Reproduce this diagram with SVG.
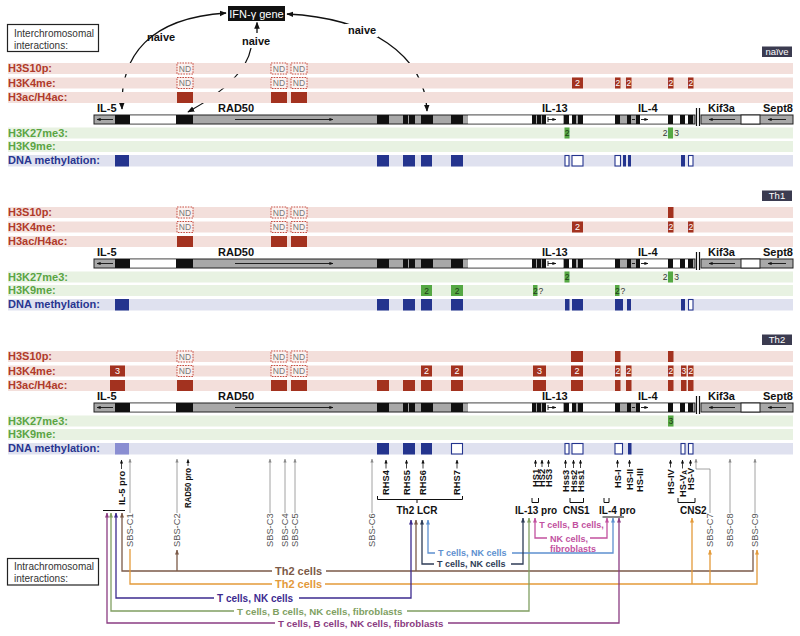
<svg xmlns="http://www.w3.org/2000/svg" width="800" height="636" viewBox="0 0 800 636">
<style>
text{font-family:"Liberation Sans",Arial,Helvetica,sans-serif}
.bR{fill:#f3dfdb}.bG{fill:#e8f2e2}.bB{fill:#dfe1ef}
.lR,.lG,.lB{font-size:11px;font-weight:bold}
.lR{fill:#b03a2a}.lG{fill:#5aa444}.lB{fill:#283590}
.mR{fill:#a3321f}.mG{fill:#55a843}.mB{fill:#24348e}.mL{fill:#8a8ed2}
.oB{fill:#fff;stroke:#24348e;stroke-width:1.1}
.nd{fill:#fbf1ef;stroke:#c0392b;stroke-width:0.9;stroke-dasharray:1.6 1.1}
.ndt{font-size:8.5px;fill:#777;text-anchor:middle}
.wt{font-size:9px;fill:#fff;text-anchor:middle}
.ws{font-size:8.5px;fill:#fff;text-anchor:middle}
.gt{font-size:8.5px;fill:#1f3a17;text-anchor:middle}
.gq{font-size:8.5px;fill:#333}
.gl{font-size:11px;font-weight:bold;fill:#111}
.tag{fill:#3b3b50}
.tagt{font-size:9.5px;fill:#fff;text-anchor:middle}
.sbs{stroke:#8a8a8a;stroke-width:0.8;fill:none}
.sbst{font-size:9.3px;fill:#555}
.el{font-size:9.3px;font-weight:bold;fill:#111}
.ea{stroke:#111;stroke-width:0.8;fill:none}
.brk{stroke:#111;stroke-width:1;fill:none}
.elb{font-size:10px;font-weight:bold;fill:#111}
.top{stroke:#111;stroke-width:1.3;fill:none}
.nv{font-size:11px;font-weight:bold;fill:#111}
.box{fill:#fff;stroke:#222;stroke-width:1.2}
.bxt{font-size:10px;fill:#333}
.cn{fill:none;stroke-width:1.3}
.blk{fill:#111}.wht{fill:#fff}
.ba{stroke:#111;stroke-width:0.9;fill:none}
</style>
<defs>
<marker id="mk" viewBox="0 0 10 10" refX="9" refY="5" markerUnits="userSpaceOnUse" markerWidth="7" markerHeight="7" orient="auto-start-reverse"><path d="M0,1 L10,5 L0,9 z" fill="#111"/></marker>
<marker id="ms" viewBox="0 0 10 10" refX="9" refY="5" markerUnits="userSpaceOnUse" markerWidth="4" markerHeight="4" orient="auto-start-reverse"><path d="M0,1 L10,5 L0,9 z" fill="#111"/></marker>
<marker id="mgy" viewBox="0 0 10 10" refX="9" refY="5" markerUnits="userSpaceOnUse" markerWidth="4" markerHeight="4" orient="auto-start-reverse"><path d="M0,1 L10,5 L0,9 z" fill="#8a8a8a"/></marker>
<marker id="mbr" viewBox="0 0 10 10" refX="9" refY="5" markerUnits="userSpaceOnUse" markerWidth="5" markerHeight="5" orient="auto-start-reverse"><path d="M0,1 L10,5 L0,9 z" fill="#7b5a48"/></marker>
<marker id="mor" viewBox="0 0 10 10" refX="9" refY="5" markerUnits="userSpaceOnUse" markerWidth="5" markerHeight="5" orient="auto-start-reverse"><path d="M0,1 L10,5 L0,9 z" fill="#e39a3a"/></marker>
<marker id="min" viewBox="0 0 10 10" refX="9" refY="5" markerUnits="userSpaceOnUse" markerWidth="5" markerHeight="5" orient="auto-start-reverse"><path d="M0,1 L10,5 L0,9 z" fill="#3d2b8f"/></marker>
<marker id="mgr" viewBox="0 0 10 10" refX="9" refY="5" markerUnits="userSpaceOnUse" markerWidth="5" markerHeight="5" orient="auto-start-reverse"><path d="M0,1 L10,5 L0,9 z" fill="#809f62"/></marker>
<marker id="mpu" viewBox="0 0 10 10" refX="9" refY="5" markerUnits="userSpaceOnUse" markerWidth="5" markerHeight="5" orient="auto-start-reverse"><path d="M0,1 L10,5 L0,9 z" fill="#8b3c82"/></marker>
<marker id="mlb" viewBox="0 0 10 10" refX="9" refY="5" markerUnits="userSpaceOnUse" markerWidth="5" markerHeight="5" orient="auto-start-reverse"><path d="M0,1 L10,5 L0,9 z" fill="#5e90cf"/></marker>
<marker id="mnv" viewBox="0 0 10 10" refX="9" refY="5" markerUnits="userSpaceOnUse" markerWidth="5" markerHeight="5" orient="auto-start-reverse"><path d="M0,1 L10,5 L0,9 z" fill="#2f3d57"/></marker>
<marker id="mpk" viewBox="0 0 10 10" refX="9" refY="5" markerUnits="userSpaceOnUse" markerWidth="5" markerHeight="5" orient="auto-start-reverse"><path d="M0,1 L10,5 L0,9 z" fill="#c2519f"/></marker>
<g id="bands">
<rect class="bR" x="8" y="63" width="785" height="11"/>
<rect class="bR" x="8" y="77.5" width="785" height="11"/>
<rect class="bR" x="8" y="92" width="785" height="11"/>
<rect class="bG" x="8" y="127.5" width="785" height="11"/>
<rect class="bG" x="8" y="141" width="785" height="11"/>
<rect class="bB" x="8" y="155" width="785" height="11.5"/>
</g>
<g id="bar">
<rect x="94" y="115" width="601" height="9" fill="#a8a8a8" stroke="#222" stroke-width="1"/>
<path class="wht" d="M130,115.5h46v8h-46z M468,115.5h64v8h-64z M546,115.5h17v8h-17z M569,115.5h3v8h-3z M583,115.5h32v8h-32z M640,115.5h28v8h-28z M673,115.5h7v8h-7z M685,115.5h3v8h-3z"/>
<path class="blk" d="M115,115h15v9h-15z M176,115h17v9h-17z M377,115h12v9h-12z M403,115h5v9h-5z M409,115h6v9h-6z M421,115h12v9h-12z M451,115h12v9h-12z M532,115h4v9h-4z M537,115h4v9h-4z M542,115h4v9h-4z M564,115h5v9h-5z M572,115h4v9h-4z M578,115h5v9h-5z M615,115h5v9h-5z M627,115h4v9h-4z M636,115h4v9h-4z M668,115h5v9h-5z M680,115h5v9h-5z M688,115h5v9h-5z"/>
<path class="ba" d="M113,119.5H97" marker-end="url(#ms)"/>
<path class="ba" d="M235,119.5H333" marker-end="url(#ms)"/>
<path class="ba" d="M548,117v5 M548,119.5h8" marker-end="url(#ms)"/>
<path class="ba" d="M632,119.5h3"/>
<path class="ba" d="M641,119.5h7" marker-end="url(#ms)"/>
<rect x="701" y="115" width="92" height="9" fill="#a8a8a8" stroke="#222" stroke-width="1"/>
<rect x="741" y="115" width="19" height="9" fill="#fff" stroke="#222" stroke-width="1"/>
<path class="ba" d="M735,119.5H709" marker-end="url(#ms)"/>
<path class="ba" d="M786,119.5H768" marker-end="url(#ms)"/>
<path d="M696.5,108V126 M699.5,108V126" stroke="#111" stroke-width="1.2"/>
</g>
</defs>

<g id="interchromosomal-label">
<rect class="box" x="7.5" y="24.5" width="91" height="27"/>
<text class="bxt" x="14" y="36.5">Interchromosomal</text>
<text class="bxt" x="14" y="48.5">interactions:</text>
</g>

<g id="ifng">
<rect x="228" y="6" width="57" height="15" fill="#111"/>
<text x="256.5" y="17.5" font-size="11" fill="#fff" text-anchor="middle">IFN-γ gene</text>
</g>

<g id="top-connectors">
<path class="top" d="M122,109 C120,55 150,18 226,13" marker-start="url(#mk)" marker-end="url(#mk)"/>
<path class="top" d="M251,48 C246,75 215,97 188,112" marker-end="url(#mk)"/>
<path class="top" d="M257,33 L257,22.5" marker-end="url(#mk)"/>
<path class="top" d="M287,14 C370,18 425,55 427,111" marker-start="url(#mk)" marker-end="url(#mk)"/>
<rect x="345" y="24" width="33" height="13" fill="#fff"/>
<text class="nv" x="147" y="41">naive</text>
<text class="nv" x="242" y="45">naive</text>
<text class="nv" x="348" y="34">naive</text>
</g>

<!-- NAIVE PANEL -->
<g id="panel-naive">
<use href="#bands"/>
<rect class="tag" x="762" y="46.5" width="30" height="10.5"/>
<text class="tagt" x="777" y="55">naïve</text>
<text class="lR" x="8" y="72">H3S10p:</text>
<text class="lR" x="8" y="86.5">H3K4me:</text>
<text class="lR" x="8" y="101">H3ac/H4ac:</text>
<text class="lG" x="8" y="136.5">H3K27me3:</text>
<text class="lG" x="8" y="150">H3K9me:</text>
<text class="lB" x="8" y="164">DNA methylation:</text>
<rect class="nd" x="177" y="63" width="16" height="11"/><text class="ndt" x="185" y="71.7">ND</text>
<rect class="nd" x="271" y="63" width="16" height="11"/><text class="ndt" x="279" y="71.7">ND</text>
<rect class="nd" x="291" y="63" width="16" height="11"/><text class="ndt" x="299" y="71.7">ND</text>
<rect class="nd" x="177" y="77.5" width="16" height="11"/><text class="ndt" x="185" y="86.2">ND</text>
<rect class="nd" x="271" y="77.5" width="16" height="11"/><text class="ndt" x="279" y="86.2">ND</text>
<rect class="nd" x="291" y="77.5" width="16" height="11"/><text class="ndt" x="299" y="86.2">ND</text>
<use href="#bar"/>
<text class="gl" x="97" y="112">IL-5</text>
<text class="gl" x="218" y="112">RAD50</text>
<text class="gl" x="542" y="112">IL-13</text>
<text class="gl" x="638" y="112">IL-4</text>
<text class="gl" x="708" y="112">Kif3a</text>
<text class="gl" x="763" y="112">Sept8</text>
<rect class="mR" x="572" y="77.5" width="11" height="11"/><text class="wt" x="577.5" y="86">2</text>
<rect class="mR" x="615" y="77.5" width="5.5" height="11"/><text class="ws" x="617.75" y="86.2">2</text>
<rect class="mR" x="626" y="77.5" width="5.5" height="11"/><text class="ws" x="628.75" y="86.2">2</text>
<rect class="mR" x="668" y="77.5" width="5.5" height="11"/><text class="ws" x="670.75" y="86.2">2</text>
<rect class="mR" x="688" y="77.5" width="5.5" height="11"/><text class="ws" x="690.75" y="86.2">2</text>
<rect class="mR" x="177" y="92" width="16" height="11"/>
<rect class="mR" x="271" y="92" width="16" height="11"/>
<rect class="mR" x="291" y="92" width="16" height="11"/>
<rect class="mG" x="564.5" y="127.5" width="5" height="11"/><text class="gt" x="567" y="136.2">2</text>
<text class="gq" x="665" y="136.2" text-anchor="middle">2</text>
<rect class="mG" x="668" y="127.5" width="5" height="11"/>
<text class="gq" x="676.5" y="136.2" text-anchor="middle">3</text>
<rect class="mB" x="115" y="155" width="14" height="11.5"/>
<rect class="mB" x="377" y="155" width="12" height="11.5"/>
<rect class="mB" x="403" y="155" width="12" height="11.5"/>
<rect class="mB" x="421" y="155" width="11" height="11.5"/>
<rect class="mB" x="451" y="155" width="12" height="11.5"/>
<rect class="oB" x="565" y="155.5" width="4" height="10.5"/>
<rect class="oB" x="572" y="155.5" width="11" height="10.5"/>
<rect class="oB" x="615" y="155.5" width="5.5" height="10.5"/>
<rect class="mB" x="623" y="155" width="3" height="11.5"/>
<rect class="mB" x="628" y="155" width="3" height="11.5"/>
<rect class="mB" x="681" y="155" width="4" height="11.5"/>
<rect class="oB" x="688.5" y="155.5" width="4.5" height="10.5"/>
</g>

<!-- TH1 PANEL -->
<g id="panel-th1" transform="translate(0,144)">
<use href="#bands"/>
<rect class="tag" x="762" y="46.5" width="30" height="10.5"/>
<text class="tagt" x="777" y="55">Th1</text>
<text class="lR" x="8" y="72">H3S10p:</text>
<text class="lR" x="8" y="86.5">H3K4me:</text>
<text class="lR" x="8" y="101">H3ac/H4ac:</text>
<text class="lG" x="8" y="136.5">H3K27me3:</text>
<text class="lG" x="8" y="150">H3K9me:</text>
<text class="lB" x="8" y="164">DNA methylation:</text>
<rect class="nd" x="177" y="63" width="16" height="11"/><text class="ndt" x="185" y="71.7">ND</text>
<rect class="nd" x="271" y="63" width="16" height="11"/><text class="ndt" x="279" y="71.7">ND</text>
<rect class="nd" x="291" y="63" width="16" height="11"/><text class="ndt" x="299" y="71.7">ND</text>
<rect class="nd" x="177" y="77.5" width="16" height="11"/><text class="ndt" x="185" y="86.2">ND</text>
<rect class="nd" x="271" y="77.5" width="16" height="11"/><text class="ndt" x="279" y="86.2">ND</text>
<rect class="nd" x="291" y="77.5" width="16" height="11"/><text class="ndt" x="299" y="86.2">ND</text>
<use href="#bar"/>
<text class="gl" x="97" y="112">IL-5</text>
<text class="gl" x="218" y="112">RAD50</text>
<text class="gl" x="542" y="112">IL-13</text>
<text class="gl" x="638" y="112">IL-4</text>
<text class="gl" x="708" y="112">Kif3a</text>
<text class="gl" x="763" y="112">Sept8</text>
<rect class="mR" x="668" y="63" width="5.5" height="11"/>
<rect class="mR" x="572" y="77.5" width="11" height="11"/><text class="wt" x="577.5" y="86">2</text>
<rect class="mR" x="668" y="77.5" width="5.5" height="11"/><text class="ws" x="670.75" y="86.2">2</text>
<rect class="mR" x="688" y="77.5" width="5.5" height="11"/><text class="ws" x="690.75" y="86.2">2</text>
<rect class="mR" x="177" y="92" width="16" height="11"/>
<rect class="mR" x="271" y="92" width="16" height="11"/>
<rect class="mR" x="291" y="92" width="16" height="11"/>
<rect class="mG" x="564.5" y="127.5" width="5" height="11"/><text class="gt" x="567" y="136.2">2</text>
<text class="gq" x="665" y="136.2" text-anchor="middle">2</text>
<rect class="mG" x="668" y="127.5" width="5" height="11"/>
<text class="gq" x="676.5" y="136.2" text-anchor="middle">3</text>
<rect class="mG" x="421" y="141" width="11" height="11"/><text class="gt" x="426.5" y="149.5" font-size="9">2</text>
<rect class="mG" x="451" y="141" width="12" height="11"/><text class="gt" x="457" y="149.5" font-size="9">2</text>
<rect class="mG" x="533" y="141" width="4.5" height="11"/><text class="gt" x="535.25" y="149.7">2</text><text class="gq" x="538.5" y="149.7">?</text>
<rect class="mG" x="615" y="141" width="4.5" height="11"/><text class="gt" x="617.25" y="149.7">2</text><text class="gq" x="620.5" y="149.7">?</text>
<rect class="mB" x="115" y="155" width="14" height="11.5"/>
<rect class="mB" x="377" y="155" width="12" height="11.5"/>
<rect class="mB" x="403" y="155" width="12" height="11.5"/>
<rect class="mB" x="421" y="155" width="11" height="11.5"/>
<rect class="mB" x="451" y="155" width="12" height="11.5"/>
<rect class="mB" x="565" y="155" width="4.5" height="11.5"/>
<rect class="mB" x="572" y="155" width="11" height="11.5"/>
<rect class="mB" x="615" y="155" width="8" height="11.5"/>
<rect class="mB" x="627" y="155" width="4" height="11.5"/>
<rect class="mB" x="681" y="155" width="4" height="11.5"/>
<rect class="oB" x="688.5" y="155.5" width="4.5" height="10.5"/>
</g>

<!-- TH2 PANEL -->
<g id="panel-th2" transform="translate(0,288)">
<use href="#bands"/>
<rect class="tag" x="762" y="46.5" width="30" height="10.5"/>
<text class="tagt" x="777" y="55">Th2</text>
<text class="lR" x="8" y="72">H3S10p:</text>
<text class="lR" x="8" y="86.5">H3K4me:</text>
<text class="lR" x="8" y="101">H3ac/H4ac:</text>
<text class="lG" x="8" y="136.5">H3K27me3:</text>
<text class="lG" x="8" y="150">H3K9me:</text>
<text class="lB" x="8" y="164">DNA methylation:</text>
<rect class="nd" x="177" y="63" width="16" height="11"/><text class="ndt" x="185" y="71.7">ND</text>
<rect class="nd" x="271" y="63" width="16" height="11"/><text class="ndt" x="279" y="71.7">ND</text>
<rect class="nd" x="291" y="63" width="16" height="11"/><text class="ndt" x="299" y="71.7">ND</text>
<rect class="nd" x="177" y="77.5" width="16" height="11"/><text class="ndt" x="185" y="86.2">ND</text>
<rect class="nd" x="271" y="77.5" width="16" height="11"/><text class="ndt" x="279" y="86.2">ND</text>
<rect class="nd" x="291" y="77.5" width="16" height="11"/><text class="ndt" x="299" y="86.2">ND</text>
<use href="#bar"/>
<text class="gl" x="97" y="112">IL-5</text>
<text class="gl" x="218" y="112">RAD50</text>
<text class="gl" x="542" y="112">IL-13</text>
<text class="gl" x="638" y="112">IL-4</text>
<text class="gl" x="708" y="112">Kif3a</text>
<text class="gl" x="763" y="112">Sept8</text>
<rect class="mR" x="571" y="63" width="12" height="11"/>
<rect class="mR" x="615" y="63" width="5.5" height="11"/>
<rect class="mR" x="668" y="63" width="5.5" height="11"/>
<rect class="mR" x="110" y="77.5" width="15" height="11"/><text class="wt" x="117.5" y="86">3</text>
<rect class="mR" x="421" y="77.5" width="11" height="11"/><text class="wt" x="426.5" y="86">2</text>
<rect class="mR" x="451" y="77.5" width="12" height="11"/><text class="wt" x="457" y="86">2</text>
<rect class="mR" x="533" y="77.5" width="13" height="11"/><text class="wt" x="539.5" y="86">3</text>
<rect class="mR" x="571" y="77.5" width="12" height="11"/><text class="wt" x="577" y="86">2</text>
<rect class="mR" x="615" y="77.5" width="5.5" height="11"/><text class="ws" x="617.75" y="86.2">2</text>
<rect class="mR" x="626" y="77.5" width="5.5" height="11"/><text class="ws" x="628.75" y="86.2">2</text>
<rect class="mR" x="668" y="77.5" width="5.5" height="11"/><text class="ws" x="670.75" y="86.2">2</text>
<rect class="mR" x="681" y="77.5" width="5.5" height="11"/><text class="ws" x="683.75" y="86.2">3</text>
<rect class="mR" x="688" y="77.5" width="5.5" height="11"/><text class="ws" x="690.75" y="86.2">2</text>
<rect class="mR" x="110" y="92" width="15" height="11"/>
<rect class="mR" x="177" y="92" width="16" height="11"/>
<rect class="mR" x="271" y="92" width="16" height="11"/>
<rect class="mR" x="291" y="92" width="16" height="11"/>
<rect class="mR" x="377" y="92" width="12" height="11"/>
<rect class="mR" x="403" y="92" width="12" height="11"/>
<rect class="mR" x="421" y="92" width="11" height="11"/>
<rect class="mR" x="451" y="92" width="12" height="11"/>
<rect class="mR" x="533" y="92" width="13" height="11"/>
<rect class="mR" x="571" y="92" width="12" height="11"/>
<rect class="mR" x="615" y="92" width="5.5" height="11"/>
<rect class="mR" x="626" y="92" width="5.5" height="11"/>
<rect class="mR" x="668" y="92" width="5.5" height="11"/>
<rect class="mR" x="681" y="92" width="5.5" height="11"/>
<rect class="mR" x="688" y="92" width="5.5" height="11"/>
<rect class="mG" x="668" y="127.5" width="5.5" height="11"/><text class="gt" x="670.75" y="136.2">3</text>
<rect class="mL" x="115" y="155" width="14" height="11.5"/>
<rect class="mB" x="377" y="155" width="12" height="11.5"/>
<rect class="mB" x="403" y="155" width="12" height="11.5"/>
<rect class="mB" x="421" y="155" width="11" height="11.5"/>
<rect class="oB" x="451.5" y="155.5" width="11" height="10.5"/>
<rect class="oB" x="565" y="155.5" width="4" height="10.5"/>
<rect class="oB" x="572" y="155.5" width="11" height="10.5"/>
<rect class="oB" x="615" y="155.5" width="7.5" height="10.5"/>
<rect class="mB" x="628" y="155" width="3.5" height="11.5"/>
<rect class="oB" x="681" y="155.5" width="4" height="10.5"/>
<rect class="oB" x="688.5" y="155.5" width="4.5" height="10.5"/>
</g>

<!-- ELEMENT LABELS -->
<g id="elements">
<g id="sbs-sites">
<path class="sbs" d="M130,513V459" marker-end="url(#mgy)"/>
<path class="sbs" d="M177,513V459" marker-end="url(#mgy)"/>
<path class="sbs" d="M270,513V459" marker-end="url(#mgy)"/>
<path class="sbs" d="M285,513V459" marker-end="url(#mgy)"/>
<path class="sbs" d="M295,513V459" marker-end="url(#mgy)"/>
<path class="sbs" d="M372,513V459" marker-end="url(#mgy)"/>
<path class="sbs" d="M710,513V469H696V459" marker-end="url(#mgy)"/>
<path class="sbs" d="M730,513V459" marker-end="url(#mgy)"/>
<path class="sbs" d="M755,513V459" marker-end="url(#mgy)"/>
<text class="sbst" transform="translate(133.3,547) rotate(-90)">SBS-C1</text>
<text class="sbst" transform="translate(180.3,547) rotate(-90)">SBS-C2</text>
<text class="sbst" transform="translate(273.3,547) rotate(-90)">SBS-C3</text>
<text class="sbst" transform="translate(288.3,547) rotate(-90)">SBS-C4</text>
<text class="sbst" transform="translate(298.3,547) rotate(-90)">SBS-C5</text>
<text class="sbst" transform="translate(375.3,547) rotate(-90)">SBS-C6</text>
<text class="sbst" transform="translate(713.3,547) rotate(-90)">SBS-C7</text>
<text class="sbst" transform="translate(733.3,547) rotate(-90)">SBS-C8</text>
<text class="sbst" transform="translate(758.3,547) rotate(-90)">SBS-C9</text>
</g>
<g id="regulatory-elements">
<text class="el" transform="translate(124.9,505) rotate(-90)">IL-5 pro</text>
<path class="ea" d="M121.5,469V460" marker-end="url(#ms)"/>
<text class="el" transform="translate(191.4,508) rotate(-90)" textLength="40" lengthAdjust="spacingAndGlyphs">RAD50 pro</text>
<path class="ea" d="M188,466V459.5" marker-end="url(#ms)"/>
<text class="el" transform="translate(389.3,495) rotate(-90)">RHS4</text>
<path class="ea" d="M386,468.5V460" marker-end="url(#ms)"/>
<text class="el" transform="translate(409.8,495) rotate(-90)">RHS5</text>
<path class="ea" d="M406.5,468.5V460" marker-end="url(#ms)"/>
<text class="el" transform="translate(426.3,495) rotate(-90)">RHS6</text>
<path class="ea" d="M423,468.5V460" marker-end="url(#ms)"/>
<text class="el" transform="translate(460.3,495) rotate(-90)">RHS7</text>
<path class="ea" d="M457,468.5V460" marker-end="url(#ms)"/>
<text class="el" transform="translate(538.8,487) rotate(-90)">HS1</text>
<path class="ea" d="M535.5,467V460" marker-end="url(#ms)"/>
<text class="el" transform="translate(545.3,487) rotate(-90)">HS2</text>
<path class="ea" d="M542,467V460" marker-end="url(#ms)"/>
<text class="el" transform="translate(551.8,487) rotate(-90)">HS3</text>
<path class="ea" d="M548.5,467V460" marker-end="url(#ms)"/>
<text class="el" transform="translate(568.8,492) rotate(-90)">Hss3</text>
<path class="ea" d="M565.5,468V460" marker-end="url(#ms)"/>
<text class="el" transform="translate(576.8,492) rotate(-90)">Hss2</text>
<path class="ea" d="M573.5,468V460" marker-end="url(#ms)"/>
<text class="el" transform="translate(583.8,492) rotate(-90)">Hss1</text>
<path class="ea" d="M580.5,468V460" marker-end="url(#ms)"/>
<text class="el" transform="translate(620.8,488) rotate(-90)">HS-I</text>
<path class="ea" d="M617.5,467.5V460" marker-end="url(#ms)"/>
<text class="el" transform="translate(632.8,490) rotate(-90)">HS-II</text>
<path class="ea" d="M629.5,467V460" marker-end="url(#ms)"/>
<text class="el" transform="translate(642.8,492) rotate(-90)">HS-III</text>
<text class="el" transform="translate(673.8,494) rotate(-90)">HS-IV</text>
<path class="ea" d="M670.5,467.5V460" marker-end="url(#ms)"/>
<text class="el" transform="translate(685.8,497) rotate(-90)">HS-V<tspan font-size="6.5" dy="1.5">A</tspan></text>
<path class="ea" d="M682.5,468.5V460" marker-end="url(#ms)"/>
<text class="el" transform="translate(693.8,490) rotate(-90)">HS-V</text>
<path class="ea" d="M690.5,466V460" marker-end="url(#ms)"/>
<path class="brk" d="M103,510.5H125"/>
<path class="brk" d="M377.5,496V499.5H462.5V496 M417,499.5V503"/>
<path class="brk" d="M532,498V502.5H538.5V498"/>
<path class="brk" d="M570,498V502.5H583.5V498"/>
<path class="brk" d="M604,498V502.5H609V498"/>
<path class="brk" d="M678,498V502.5H695V498"/>
<path class="brk" d="M602.5,517H624"/>
<text class="elb" x="417" y="513.5" text-anchor="middle">Th2 LCR</text>
<text class="elb" x="515" y="513.5">IL-13 pro</text>
<text class="elb" x="563" y="513.5">CNS1</text>
<text class="elb" x="599" y="513.5">IL-4 pro</text>
<text class="elb" x="680" y="513.5">CNS2</text>
</g>
</g>

<g id="intrachromosomal-label">
<rect class="box" x="7.5" y="558.5" width="91" height="26.5"/>
<text class="bxt" x="14" y="570">Intrachromosomal</text>
<text class="bxt" x="14" y="582">interactions:</text>
</g>

<!-- CONNECTORS -->
<g id="connectors">
<path class="cn" stroke="#7b5a48" d="M122,513V571H272" marker-start="url(#mbr)"/>
<path class="cn" stroke="#7b5a48" d="M326,571H753V550"/>
<path class="cn" stroke="#7b5a48" d="M177,571V550" marker-end="url(#mbr)"/>
<path class="cn" stroke="#7b5a48" d="M416,571V520" marker-end="url(#mbr)"/>
<text x="275" y="575" font-size="11" font-weight="bold" fill="#7b5a48">Th2 cells</text>

<path class="cn" stroke="#e39a3a" d="M130,549V584H272"/>
<path class="cn" stroke="#e39a3a" d="M325,584H757V550" marker-end="url(#mor)"/>
<path class="cn" stroke="#e39a3a" d="M692,584V518" marker-end="url(#mor)"/>
<path class="cn" stroke="#e39a3a" d="M710,584V550" marker-end="url(#mor)"/>
<text x="275" y="588" font-size="11" font-weight="bold" fill="#e39a3a">Th2 cells</text>

<path class="cn" stroke="#3d2b8f" d="M116,513V598H214" marker-start="url(#min)"/>
<path class="cn" stroke="#3d2b8f" d="M299,598H411V520" marker-end="url(#min)"/>
<text x="217" y="601.5" font-size="10" font-weight="bold" fill="#3d2b8f">T cells, NK cells</text>

<path class="cn" stroke="#809f62" d="M111,513V611H234" marker-start="url(#mgr)"/>
<path class="cn" stroke="#809f62" d="M407,611H529V518" marker-end="url(#mgr)"/>
<text x="237" y="614.5" font-size="9.7" font-weight="bold" fill="#809f62">T cells, B cells, NK cells, fibroblasts</text>

<path class="cn" stroke="#8b3c82" d="M107,513V623H275" marker-start="url(#mpu)"/>
<path class="cn" stroke="#8b3c82" d="M448,623H619V518" marker-end="url(#mpu)"/>
<text x="278" y="626.5" font-size="9.7" font-weight="bold" fill="#8b3c82">T cells, B cells, NK cells, fibroblasts</text>

<path class="cn" stroke="#5e90cf" d="M428,520V553H435" marker-start="url(#mlb)"/>
<path class="cn" stroke="#5e90cf" d="M512,553H613V518" marker-end="url(#mlb)"/>
<text x="438" y="556.3" font-size="9" font-weight="bold" fill="#5e90cf">T cells, NK cells</text>

<path class="cn" stroke="#2f3d57" d="M422,520V564H434" marker-start="url(#mnv)"/>
<path class="cn" stroke="#2f3d57" d="M511,564H523V518" marker-end="url(#mnv)"/>
<text x="437" y="567.3" font-size="9" font-weight="bold" fill="#2f3d57">T cells, NK cells</text>

<path class="cn" stroke="#c2519f" d="M535,518V538H547" marker-start="url(#mpk)"/>
<path class="cn" stroke="#c2519f" d="M590,538H607V518" marker-end="url(#mpk)"/>
<text x="571.5" y="528" font-size="9" font-weight="bold" fill="#c2519f" text-anchor="middle">T cells, B cells,</text>
<text x="569" y="541.5" font-size="9" font-weight="bold" fill="#c2519f" text-anchor="middle">NK cells,</text>
<text x="573" y="551.5" font-size="9" font-weight="bold" fill="#c2519f" text-anchor="middle">fibroblasts</text>
</g>
</svg>
